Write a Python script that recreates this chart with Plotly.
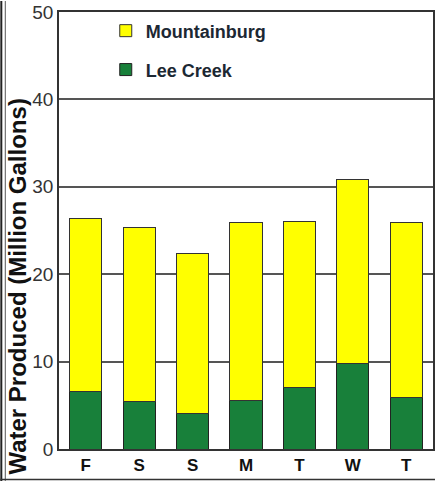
import plotly.graph_objects as go

days = ["F", "S", "S", "M", "T", "W", "T"]
lee_creek = [6.6, 5.4, 4.1, 5.6, 7.0, 9.8, 5.9]
mountainburg = [19.8, 20.0, 18.3, 20.3, 19.0, 21.0, 20.0]
y_ticks = [0, 10, 20, 30, 40, 50]

W, H = 437, 481
L, R, T, B = 59, 2, 11, 32
PW, PH = W - L - R, H - T - B

def px(x):
    return (x - L) / PW

def py(y):
    return (H - B - y) / PH

x_idx = list(range(len(days)))

fig = go.Figure()
fig.add_trace(go.Bar(
    x=x_idx, y=lee_creek, name="<b>Lee Creek</b>",
    marker=dict(color="#18803a", line=dict(color="#222222", width=1)),
    width=0.6, legend="legend2",
))
fig.add_trace(go.Bar(
    x=x_idx, y=mountainburg, name="<b>Mountainburg</b>",
    marker=dict(color="#ffff00", line=dict(color="#333333", width=1)),
    width=0.6, legend="legend",
))

fig.update_layout(
    width=W, height=H,
    margin=dict(l=L, r=R, t=T, b=B),
    barmode="stack",
    paper_bgcolor="white", plot_bgcolor="white",
    font=dict(family="Liberation Sans, Arial", color="#222222"),
    showlegend=True,
    legend=dict(x=px(106), y=py(30), xanchor="left", yanchor="middle",
                bgcolor="rgba(0,0,0,0)",
                font=dict(size=18, color="#1c2833", family="Liberation Sans, Arial")),
    legend2=dict(x=px(106), y=py(69), xanchor="left", yanchor="middle",
                 bgcolor="rgba(0,0,0,0)",
                 font=dict(size=18, color="#1c2833", family="Liberation Sans, Arial")),
    xaxis=dict(
        range=[-0.5, len(days) - 0.5],
        tickmode="array", tickvals=x_idx, ticktext=["<b>%s</b>" % d for d in days],
        tickfont=dict(size=17, color="#111111"),
        showline=True, linecolor="#333333", linewidth=1.5, mirror=True,
        showgrid=False, ticks="", zeroline=False,
    ),
    yaxis=dict(
        range=[0, 50],
        tickmode="array", tickvals=y_ticks,
        tickfont=dict(size=19, color="#333333"),
        showline=True, linecolor="#333333", linewidth=1.5, mirror=True,
        showgrid=True, gridcolor="#555555", gridwidth=1.5,
        ticks="", zeroline=False,
    ),
    annotations=[dict(
        text="<b>Water Produced (Million Gallons)</b>",
        x=px(17), y=py(286), xref="paper", yref="paper",
        xanchor="center", yanchor="middle", textangle=-90, showarrow=False,
        font=dict(size=24, color="#111111", family="Liberation Sans, Arial"),
    )],
    shapes=[
        dict(type="line", xref="paper", yref="paper", x0=px(1), x1=px(1), y0=py(0), y1=py(H),
             line=dict(color="#222222", width=2)),
        dict(type="line", xref="paper", yref="paper", x0=px(5), x1=px(5), y0=py(0), y1=py(H),
             line=dict(color="#555555", width=1)),
        dict(type="line", xref="paper", yref="paper", x0=px(0), x1=px(W), y0=py(479.5), y1=py(479.5),
             line=dict(color="#333333", width=1.5)),
    ],
)

fig.write_html(
    "out.html",
    config={"displayModeBar": False},
    post_script="document.body.style.margin='0';document.body.style.padding='0';",
)
